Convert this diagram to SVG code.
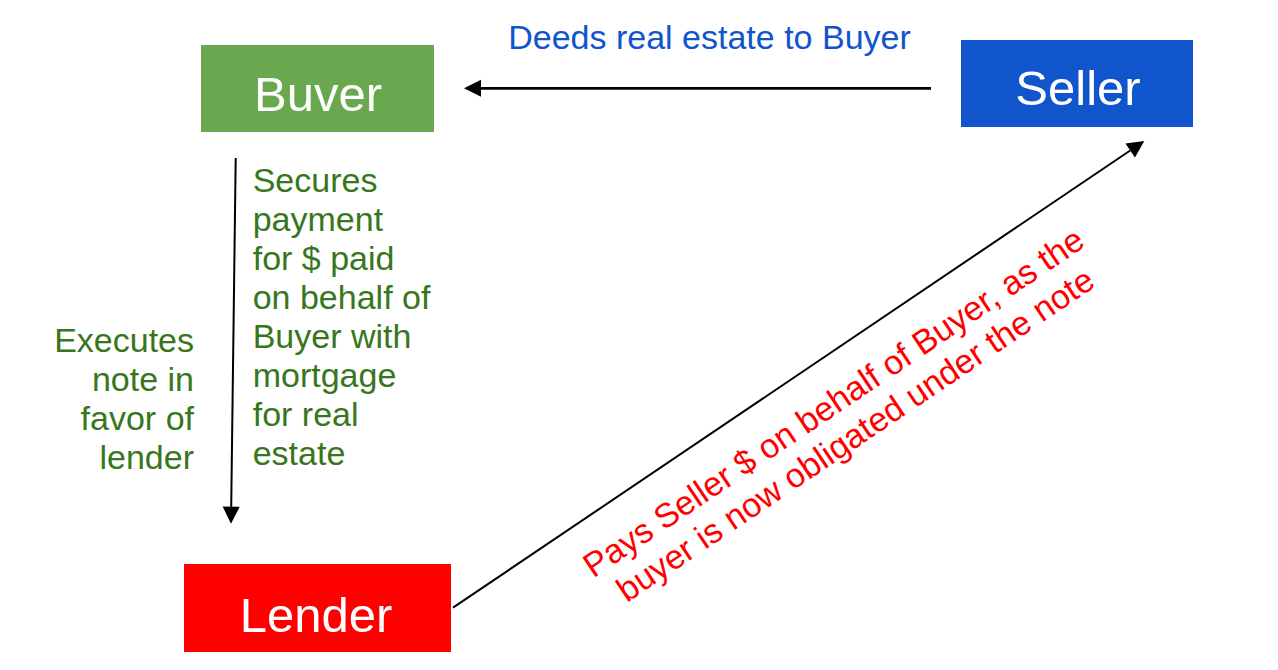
<svg xmlns="http://www.w3.org/2000/svg" width="1278" height="670" viewBox="0 0 1278 670">
<style>
.lbl{font-family:"Liberation Sans",Arial,sans-serif;}
.node{font-family:"Liberation Sans",Arial,sans-serif;font-size:49px;fill:#FFFFFF;text-anchor:middle;}
.edge{stroke:#000000;fill:none;}
.green{fill:#38761D;font-size:34px;}
</style>
<defs>
<marker id="ah" markerUnits="userSpaceOnUse" markerWidth="18" markerHeight="18" refX="0" refY="8.5" orient="auto" overflow="visible">
<path d="M0,0 L17,8.5 L0,17 Z" fill="#000000"/>
</marker>
</defs>
<rect width="1278" height="670" fill="#FFFFFF"/>
<g id="buyer">
<rect x="201" y="45" width="233" height="87" fill="#6AA84F"/>
<text class="node" x="318" y="111">Buver</text>
</g>
<g id="seller">
<rect x="961" y="40" width="232" height="87" fill="#1155CC"/>
<text class="node" x="1078" y="105">Seller</text>
</g>
<g id="lender">
<rect x="184" y="564" width="267" height="88" fill="#FF0000"/>
<text class="node" x="316" y="632">Lender</text>
</g>
<g id="connectors">
<line class="edge" x1="931" y1="88.3" x2="481" y2="88.3" stroke-width="2.7" marker-end="url(#ah)"/>
<line class="edge" x1="235.7" y1="158" x2="231.2" y2="506.7" stroke-width="2" marker-end="url(#ah)"/>
<line class="edge" x1="453" y1="607.7" x2="1130.2" y2="150.5" stroke-width="2" marker-end="url(#ah)"/>
</g>
<g id="labels">
<text class="lbl" x="709.5" y="49" font-size="34" fill="#1155CC" text-anchor="middle">Deeds real estate to Buyer</text>
<text class="lbl green" x="252.7" y="192"><tspan x="252.7" y="192">Secures</tspan><tspan x="252.7" y="231">payment</tspan><tspan x="252.7" y="270">for $ paid</tspan><tspan x="252.7" y="309">on behalf of</tspan><tspan x="252.7" y="348">Buyer with</tspan><tspan x="252.7" y="387">mortgage</tspan><tspan x="252.7" y="426">for real</tspan><tspan x="252.7" y="465">estate</tspan></text>
<text class="lbl green" text-anchor="end" x="194" y="352"><tspan x="194" y="352">Executes</tspan><tspan x="194" y="391">note in</tspan><tspan x="194" y="430">favor of</tspan><tspan x="194" y="469">lender</tspan></text>
<g transform="translate(840,412) rotate(-34)">
<text class="lbl" font-size="34" fill="#FF0000" text-anchor="middle"><tspan x="0" y="0">Pays Seller $ on behalf of Buyer, as the</tspan><tspan x="0" y="39">buyer is now obligated under the note</tspan></text>
</g>
</g>
</svg>
